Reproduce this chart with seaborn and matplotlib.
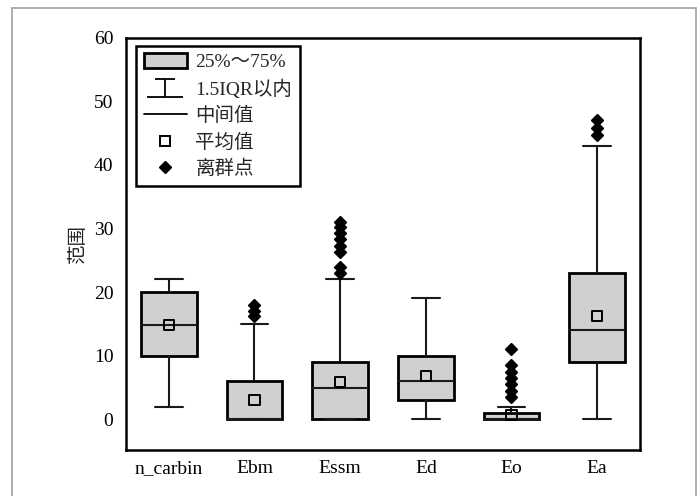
import numpy as np
import pandas as pd
import matplotlib
matplotlib.use("Agg")
import matplotlib.pyplot as plt
from matplotlib.patches import Patch, Rectangle
from matplotlib.lines import Line2D
from matplotlib.path import Path
import seaborn as sns

# ---- data ----
categories = ["n_carbin", "Ebm", "Essm", "Ed", "Eo", "Ea"]
whisker_low = [2, 0, 0, 0, 0, 0]
q1 = [10, 0, 0, 3, 0, 9]
median = [14.8, 0, 5, 6, 0, 14]
q3 = [20, 6, 9, 10, 1.05, 23]
whisker_high = [22, 15, 22, 19, 2, 43]
means = [14.85, 3.1, 5.9, 6.85, 0.7, 16.3]
outliers = [
    [],
    [16.2, 17.1, 18.0],
    [23.0, 24.0, 26.3, 27.3, 28.3, 29.3, 30.2, 31.0],
    [],
    [3.5, 4.5, 5.5, 6.5, 7.5, 8.5, 11.0],
    [44.7, 45.8, 47.0],
]
yticks = [0, 10, 20, 30, 40, 50, 60]
ylabel = "范围"
legend_labels = ["25%～75%", "1.5IQR以内", "中间值", "平均值", "离群点"]

# Build a sample per category that reproduces the read box statistics
rows = []
K = 20
for i, cat in enumerate(categories):
    vals = ([whisker_low[i]] + [q1[i]] * K + [median[i]] * K + [q3[i]] * K
            + [whisker_high[i]] + list(outliers[i]))
    rows += [(cat, v) for v in vals]
df = pd.DataFrame(rows, columns=["cat", "value"])
df_mean = pd.DataFrame({"cat": categories, "mean": means})

sns.set_theme(style="white")
plt.rcParams["font.family"] = ["Liberation Serif", "Noto Sans CJK SC", "DejaVu Sans"]
plt.rcParams["axes.unicode_minus"] = False

fig = plt.figure(figsize=(6.99, 4.96), dpi=100)
ax = fig.add_axes([126 / 699, 1 - 450 / 496, (640 - 126) / 699, (450 - 37.5) / 496])

box_fill = "#d0d0d0"
sns.boxplot(
    data=df, x="cat", y="value", order=categories, ax=ax,
    color=box_fill, saturation=1, width=0.65, linecolor="black", linewidth=1.5,
    whis=1.5,
    boxprops=dict(edgecolor="black", linewidth=2.0),
    whiskerprops=dict(color="#1a1a1a", linewidth=1.5),
    capprops=dict(color="#1a1a1a", linewidth=1.5),
    medianprops=dict(color="#1a1a1a", linewidth=1.5),
    flierprops=dict(marker="D", markerfacecolor="black", markeredgecolor="black",
                    markersize=6.5),
)
sns.scatterplot(data=df_mean, x="cat", y="mean", ax=ax, marker="s", s=55,
                facecolor="none", edgecolor="black", linewidth=1.4, zorder=5)

ax.set_xlim(-0.5, 5.5)
ax.set_ylim(-4.8, 60)
ax.set_yticks(yticks)
ax.set_xlabel("")
ax.set_ylabel(ylabel, fontsize=14, labelpad=5)
ax.tick_params(axis="both", direction="in", length=6, width=1.5, color="black",
               labelsize=14, labelcolor="black")
ax.tick_params(axis="y", pad=9)
ax.tick_params(axis="x", pad=7)
for s in ax.spines.values():
    s.set_visible(True)
    s.set_color("black")
    s.set_linewidth(1.8)

# legend
cap_path = Path(
    [(-0.58, 0.5), (0.58, 0.5), (0, 0.5), (0, -0.5), (-1.0, -0.5), (1.0, -0.5)],
    [Path.MOVETO, Path.LINETO, Path.MOVETO, Path.LINETO, Path.MOVETO, Path.LINETO],
)
handles = [
    Patch(facecolor=box_fill, edgecolor="black", linewidth=2.0),
    Line2D([], [], linestyle="none", marker=cap_path, markersize=26,
           markeredgecolor="black", markerfacecolor="none", markeredgewidth=1.3),
    Line2D([], [], color="black", linewidth=1.3),
    Line2D([], [], linestyle="none", marker="s", markersize=7,
           markerfacecolor="none", markeredgecolor="black", markeredgewidth=1.4),
    Line2D([], [], linestyle="none", marker="D", markersize=6.5,
           markerfacecolor="black", markeredgecolor="black"),
]
leg = ax.legend(handles, legend_labels, loc="upper left",
                bbox_to_anchor=(0.012, 0.99), fontsize=14, frameon=True,
                fancybox=False, framealpha=1, edgecolor="black",
                handlelength=2.2, handleheight=0.8, labelspacing=0.42,
                borderpad=0.4, handletextpad=0.45, borderaxespad=0.2)
leg.get_frame().set_linewidth(1.8)

# outer gray frame
fig.patches.append(Rectangle((12 / 699, -0.05), (696 - 12) / 699, 1.05 - 8 / 496,
                             transform=fig.transFigure, fill=False,
                             edgecolor="#a0a0a0", linewidth=1.2))

fig.savefig("out.png", dpi=100)
